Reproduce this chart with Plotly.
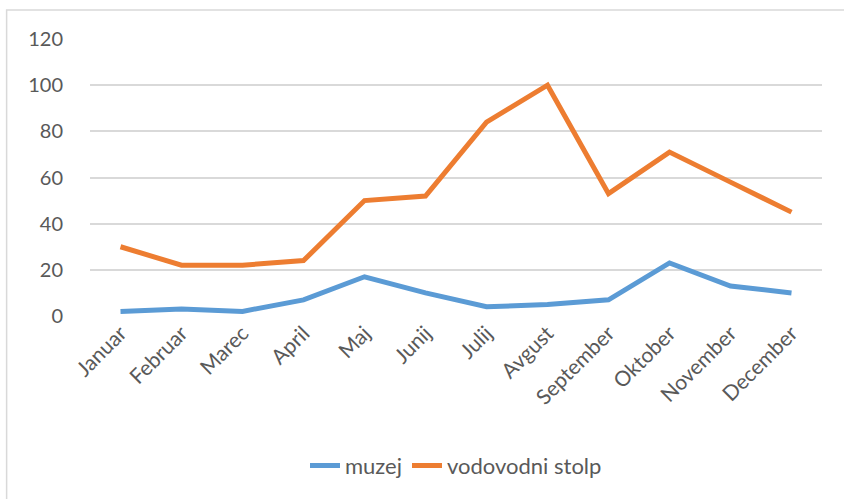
import plotly.graph_objects as go

months = ["Januar", "Februar", "Marec", "April", "Maj", "Junij", "Julij",
          "Avgust", "September", "Oktober", "November", "December"]
muzej = [2, 3, 2, 7, 17, 10, 4, 5, 7, 23, 13, 10]
vodovodni_stolp = [30, 22, 22, 24, 50, 52, 84, 100, 53, 71, 58, 45]
y_ticks = [0, 20, 40, 60, 80, 100, 120]

FONT = "Lato"
TXT = "#595959"

fig = go.Figure()
fig.add_trace(go.Scatter(x=months, y=muzej, mode="lines", name="muzej",
                         line=dict(color="#5B9BD5", width=5, shape="linear")))
fig.add_trace(go.Scatter(x=months, y=vodovodni_stolp, mode="lines", name="vodovodni stolp",
                         line=dict(color="#ED7D31", width=5, shape="linear")))

fig.update_layout(
    width=844, height=499,
    margin=dict(l=89.5, r=21.5, t=39, b=183, autoexpand=False),
    paper_bgcolor="white", plot_bgcolor="white",
    font=dict(family=FONT, color=TXT, size=21),
    showlegend=True,
    legend=dict(orientation="h", x=0.5, xanchor="center", y=-0.54, yanchor="middle",
                font=dict(size=22, color=TXT), traceorder="normal"),
    xaxis=dict(type="category", tickangle=-45, showgrid=False, showline=False,
               ticks="", tickfont=dict(size=21, color=TXT), range=[-0.5, 11.5],
               automargin=False),
    yaxis=dict(range=[0, 120], tickvals=y_ticks, showgrid=True, gridcolor="#D9D9D9",
               gridwidth=1.5, zeroline=False, showline=False, ticks="",
               tickfont=dict(size=20, color=TXT), ticklabelstandoff=26, automargin=False),
    shapes=[dict(type="rect", xref="paper", yref="paper",
                 x0=(6 - 89.5) / 733, x1=1.2, y0=-0.7, y1=1 + (39 - 10) / 277,
                 line=dict(color="#D9D9D9", width=1.5), fillcolor="rgba(0,0,0,0)", layer="below")],
)

fig.write_html("out.html", config={"displayModeBar": False},
               post_script="document.body.style.margin='0';document.body.style.overflow='hidden';")
